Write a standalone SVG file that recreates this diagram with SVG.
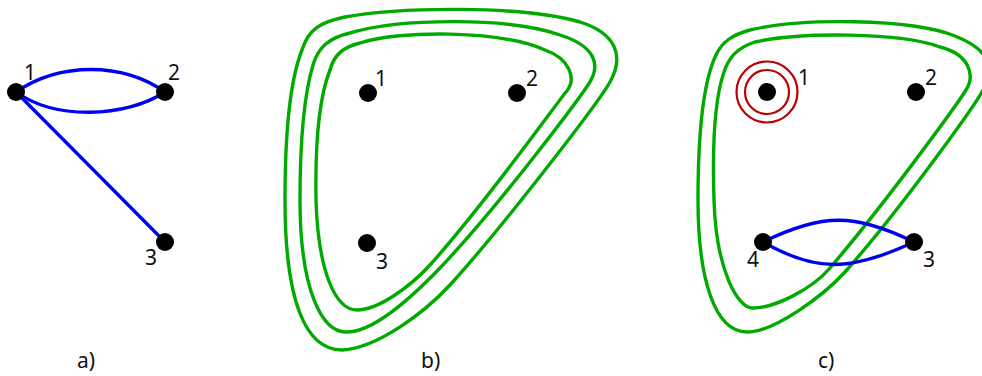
<svg xmlns="http://www.w3.org/2000/svg" width="982" height="376" viewBox="0 0 982 376">
<style>
.edge{fill:none;stroke:#0000f0;stroke-width:3.3;stroke-linecap:round}
.loop{fill:none;stroke:#00aa00;stroke-width:3.4}
.ring{fill:none;stroke:#bb0000;stroke-width:2.2}
.node{fill:#000}
.lbl{font-family:"Noto Sans","Open Sans","DejaVu Sans",sans-serif;font-size:21px;fill:#111;text-anchor:middle}
.cap{font-family:"Noto Sans","Open Sans","DejaVu Sans",sans-serif;font-size:21px;fill:#111}
</style>
<rect width="982" height="376" fill="#fff"/>

<!-- Panel a -->
<g id="a-connectors">
<path class="edge" d="M16 92 C60 62 122 62 165 92"/>
<path class="edge" d="M16 92 C55 120 125 118 165 92"/>
<path class="edge" d="M16 92 L165 242"/>
</g>
<g id="a-node1"><circle class="node" cx="16" cy="92" r="9"/><text class="lbl" x="30" y="80">1</text></g>
<g id="a-node2"><circle class="node" cx="165" cy="92" r="9"/><text class="lbl" x="174" y="80">2</text></g>
<g id="a-node3"><circle class="node" cx="165" cy="242" r="9"/><text class="lbl" x="151" y="265">3</text></g>
<text class="cap" x="77" y="368">a)</text>

<!-- Panel b -->
<g id="b-loops">
<path class="loop" d="M342 350 C305 350 285 300 285 200 C285 130 290 80 302 50 C308 30 320 22 345 17 C400 7 520 5 580 22 C615 33 625 55 610 82 C597 105 500 230 450 285 C425 312 378 348 342 350 Z"/>
<path class="loop" d="M347 332 C322 333 300 290 300 200 C300 140 304 95 313 65 C318 48 328 38 350 33 C400 18 510 17 560 35 C595 46 602 65 588 85 C578 100 500 205 440 268 C415 294 375 332 347 332 Z"/>
<path class="loop" d="M357 310 C335 310 318 270 316 200 C315 140 320 95 330 70 C334 55 343 47 360 43 C400 30 500 30 545 50 C568 58 578 78 566 92 C556 104 488 200 430 265 C410 287 378 310 357 310 Z"/>
</g>
<g id="b-node1"><circle class="node" cx="368" cy="93" r="9"/><text class="lbl" x="381" y="86">1</text></g>
<g id="b-node2"><circle class="node" cx="517" cy="93" r="9"/><text class="lbl" x="532" y="86">2</text></g>
<g id="b-node3"><circle class="node" cx="367" cy="243" r="9"/><text class="lbl" x="382" y="269">3</text></g>
<text class="cap" x="421" y="368">b)</text>

<!-- Panel c -->
<g id="c-loops">
<path class="loop" d="M747 332 C715 332 698 280 698 200 C698 130 704 80 716 55 C722 42 732 35 750 30 C800 18 910 18 955 36 C983 47 997 62 983 90 C976 104 900 210 845 272 C824 295 775 332 747 332 Z"/>
<path class="loop" d="M753 308 C738 309 716 270 714 200 C712 140 716 95 724 72 C729 57 737 48 755 42 C800 32 900 32 940 47 C968 54 976 74 966 90 C958 103 888 200 830 268 C812 289 775 308 753 308 Z"/>
</g>
<g id="c-rings">
<circle class="ring" cx="767" cy="92" r="30.5"/>
<circle class="ring" cx="767" cy="92" r="22"/>
</g>
<g id="c-connectors">
<path class="edge" d="M763 242 C822 213 855 213 914 242"/>
<path class="edge" d="M763 242 C815 272 850 272 914 242"/>
</g>
<g id="c-node1"><circle class="node" cx="767" cy="92" r="9"/><text class="lbl" x="804" y="85">1</text></g>
<g id="c-node2"><circle class="node" cx="916" cy="92" r="9"/><text class="lbl" x="931" y="85">2</text></g>
<g id="c-node4"><circle class="node" cx="763" cy="242" r="9"/><text class="lbl" x="753" y="267">4</text></g>
<g id="c-node3"><circle class="node" cx="914" cy="242" r="9"/><text class="lbl" x="929" y="267">3</text></g>
<text class="cap" x="818" y="368">c)</text>
</svg>
